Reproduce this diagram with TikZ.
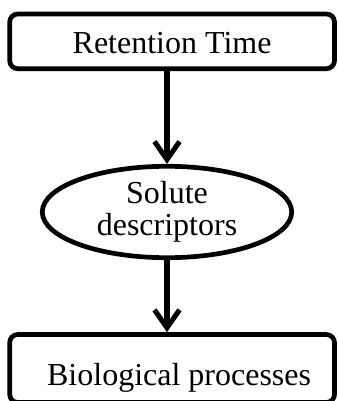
\documentclass[tikz,border=0pt]{standalone}
\usepackage{fontspec}
\setmainfont{Liberation Serif}
\usetikzlibrary{arrows.meta,shapes.geometric}
\begin{document}
\begin{tikzpicture}[x=1pt,y=-1pt,
  box/.style={draw,line width=4.7pt,rounded corners=8pt,inner sep=0pt,
    font=\fontsize{32}{33}\selectfont},
  ell/.style={draw,ellipse,line width=4.7pt,inner sep=0pt,align=center,
    font=\fontsize{32}{32}\selectfont},
  conn/.style={line width=5.5pt,-{Straight Barb[length=18pt,width=25pt,line width=5pt]}}]
\useasboundingbox (0,0) rectangle (337,401);
\node[box,minimum width=324.8pt,minimum height=54.7pt,text height=24pt,text depth=0pt] (top) at (172.1,41.35) {Retention Time};
\node[ell,minimum width=249.4pt,minimum height=91.4pt] (e) at (167,212) {Solute\\descriptors};
\node[box,minimum width=324.8pt,minimum height=67.9pt,text height=33pt,text depth=0pt] (bot) at (172.1,368.5) {\hspace*{14pt}Biological processes};
\draw[conn] (top.south -| e.north) -- (e.north);
\draw[conn] (e.south) -- (e.south |- bot.north);
\end{tikzpicture}
\end{document}
